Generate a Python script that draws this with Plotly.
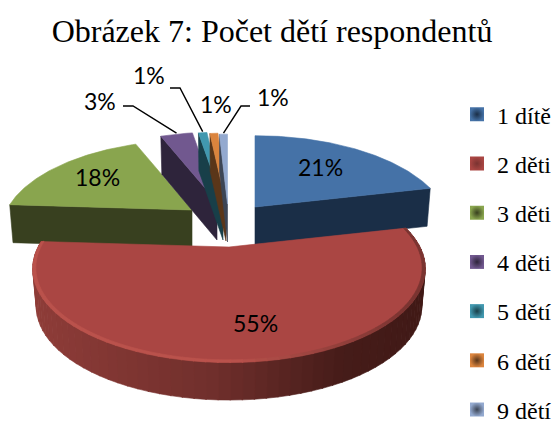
import numpy as np
import plotly.graph_objects as go

# --- data ---
categories = ["1 dítě", "2 děti", "3 děti", "4 děti", "5 dětí", "6 dětí", "9 dětí"]
values = [21.4, 54.6, 18.0, 3.4, 0.9, 0.85, 0.85]

# --- style / layout ---
top_colors = ["#4572A7", "#AA4643", "#89A54E", "#71588F", "#4198AF", "#DB843D", "#93A9CF"]
face_colors = ["#1A2E47", "#7A3331", "#38401F", "#2E243B", "#183F49", "#5A3619", "#3C4555"]
apex_x = [255, 229, 192, 217, 223, 226, 227.5]
apex_y = [207, 247, 210, 202, 202, 203, 204]
scale = [0.99, 1.0, 0.97, 0.97, 0.97, 0.97, 0.97]
A, B, K = 191.0, 88.6, 0.23
DEPTH = 38.0
BOTTOM_SHRINK = 0.982
draw_order = [2, 3, 4, 5, 6, 0, 1]
label_xy = {0: (320, 167), 1: (255, 323), 2: (97, 177), 3: (100, 101), 4: (149, 75), 5: (216, 104), 6: (273, 97)}
leader = {3: ((123, 106), (133, 106), 0.5), 4: ((170, 88), (180, 88), 0.5), 6: ((250, 106), (241, 106), 0.5)}

total = sum(values)
edges = np.concatenate([[0], np.cumsum(values)]) / total * 2 * np.pi


def project(i, theta, r=1.0, bottom=False):
    u, v = r * np.sin(theta), r * np.cos(theta)
    s = scale[i] / (1 + K * v)
    f = BOTTOM_SHRINK if bottom else 1.0
    return apex_x[i] + f * A * u * s, apex_y[i] - B * v * s + (DEPTH if bottom else 0)


def arc(i):
    n = max(4, int(np.degrees(edges[i + 1] - edges[i]) * 1.5))
    return np.linspace(edges[i], edges[i + 1], n)


def lerp(c1, c2, t):
    t = min(max(t, 0), 1)
    return "rgb(%d,%d,%d)" % tuple(round(a + (b - a) * t) for a, b in zip(c1, c2))


fig = go.Figure()


def poly(xs, ys, color):
    fig.add_trace(go.Scatter(x=list(xs), y=list(ys), mode="lines", fill="toself", fillcolor=color,
                             line=dict(color=color, width=0.6), hoverinfo="skip", showlegend=False))


for i in draw_order:
    th = arc(i)
    if i == 1:
        wall = np.linspace(edges[i], edges[i + 1], 70)
        stops = [(0.0, (142, 60, 56)), (0.45, (112, 47, 44)), (0.78, (70, 28, 25)), (1.0, (64, 25, 22))]
        for a, b in zip(wall[:-1], wall[1:]):
            t = (project(i, (a + b) / 2)[0] - 35) / 393
            col = "rgb(142,60,56)"
            for (p0, c0), (p1, c1) in zip(stops[:-1], stops[1:]):
                if p0 <= t <= p1:
                    col = lerp(c0, c1, (t - p0) / (p1 - p0))
            xt0, yt0 = project(i, a)
            xt1, yt1 = project(i, b + 0.004)
            xb0, yb0 = project(i, a, bottom=True)
            xb1, yb1 = project(i, b + 0.004, bottom=True)
            poly([xt0, xt1, xb1, xb0, xt0], [yt0, yt1, yb1, yb0, yt0], col)
    else:
        cut = edges[i + 1] if i == 0 else edges[i]
        x0, y0 = project(i, cut)
        x1, y1 = project(i, cut, r=0)
        xb0, yb0 = project(i, cut, bottom=True)
        xb1, yb1 = project(i, cut, r=0, bottom=True)
        poly([x0, x1, xb1, xb0, x0], [y0, y1, yb1, yb0, y0], face_colors[i])
    px, py = project(i, th)
    ax, ay = project(i, 0, r=0)
    poly(list(px) + [ax, px[0]], list(py) + [ay, py[0]], top_colors[i])
    if i == 1:
        rim = np.linspace(edges[i], edges[i + 1], 70)
        for a, b in zip(rim[:-1], rim[1:]):
            t = (project(i, (a + b) / 2)[0] - 35) / 393
            col = lerp((186, 82, 76), (122, 52, 49), max((t - 0.5) / 0.45, 0))
            x0, y0 = project(i, a, r=1.0)
            x1, y1 = project(i, b + 0.004, r=1.0)
            x2, y2 = project(i, b + 0.004, r=0.985)
            x3, y3 = project(i, a, r=0.985)
            poly([x0, x1, x2, x3, x0], [y0 + 0.5, y1 + 0.5, y2, y3, y0 + 0.5], col)

for i, name in enumerate(categories):
    fig.add_trace(go.Scatter(x=[None], y=[None], mode="markers", name=name, legendgroup=name,
                             marker=dict(symbol="square", size=14, color=top_colors[i],
                                         gradient=dict(type="radial", color=face_colors[i]),
                                         line=dict(width=0))))

for i, (p0, p1, frac) in leader.items():
    xe, ye = project(i, edges[i] + frac * (edges[i + 1] - edges[i]))
    fig.add_trace(go.Scatter(x=[p0[0], p1[0], xe], y=[p0[1], p1[1], ye - 1], mode="lines",
                             line=dict(color="black", width=1.4), hoverinfo="skip", showlegend=False))

annotations = []
for i, v in enumerate(values):
    annotations.append(dict(x=label_xy[i][0], y=label_xy[i][1], xref="x", yref="y", showarrow=False,
                            text="%d%%" % round(v), font=dict(family="Lato", size=23, color="black")))

fig.update_layout(
    width=558, height=423, margin=dict(l=0, r=0, t=0, b=0, autoexpand=False),
    paper_bgcolor="white", plot_bgcolor="white",
    xaxis=dict(range=[0, 558], visible=False, fixedrange=True),
    yaxis=dict(range=[423, 0], visible=False, fixedrange=True),
    title=dict(text="Obrázek 7: Počet dětí respondentů", x=0.4875, xanchor="center", y=0.928, yanchor="middle",
               font=dict(family="Liberation Serif", size=32, color="black")),
    legend=dict(x=0.819, y=0.782, xanchor="left", yanchor="top", font=dict(family="Liberation Serif", size=24, color="black"),
                tracegroupgap=15, itemwidth=30, bgcolor="rgba(0,0,0,0)"),
    annotations=annotations,
)
fig.write_html("out.html", config=dict(displayModeBar=False),
               post_script="document.body.style.margin='0';")
